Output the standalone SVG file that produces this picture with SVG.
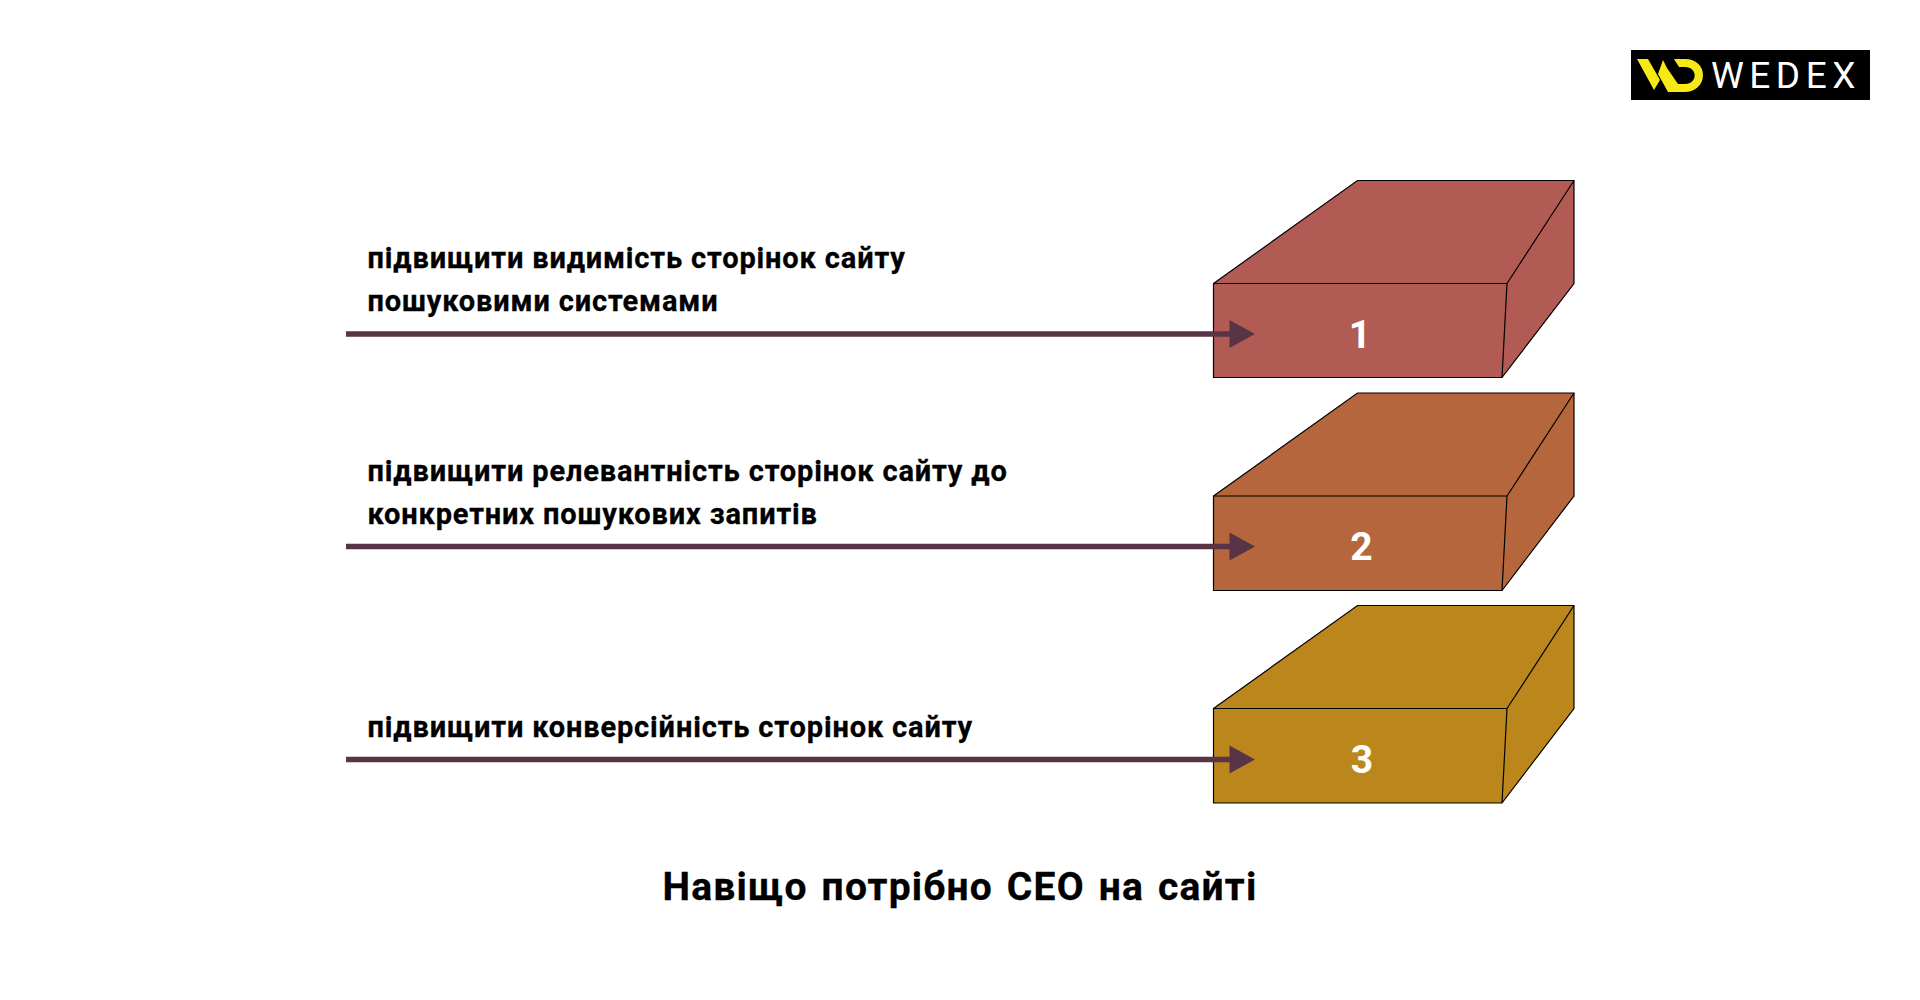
<svg xmlns="http://www.w3.org/2000/svg" width="1920" height="1000" viewBox="0 0 1920 1000">
<style>
.f{stroke:#000;stroke-width:1.2;stroke-linejoin:miter}
.t{font-family:Roboto,"Liberation Sans",sans-serif;font-weight:700;font-size:29px;fill:#000;stroke:#000;stroke-width:.3;letter-spacing:.85px}
.n{font-family:Roboto,"Liberation Sans",sans-serif;font-weight:700;font-size:39px;fill:#fff;text-anchor:middle}
.l{stroke:#593446;stroke-width:5.5;fill:none}
.h{fill:#593446}
</style>
<rect width="1920" height="1000" fill="#fff"/>
<g id="logo">
<rect x="1631" y="50" width="239" height="50" fill="#000"/>
<path d="M1637 59H1648L1660 80L1654 90Z" fill="#f5ea14"/>
<path d="M1674 59H1685C1696 59 1703 66 1703 75C1703 85 1695 92 1685 92H1668L1658 74L1663 60L1667 68L1678 84H1685C1698 84 1698 67 1685 67H1679Z" fill="#f5ea14"/>
<text x="1711" y="88" font-family="Roboto,'Liberation Sans',sans-serif" font-weight="400" font-size="37" fill="#fff" letter-spacing="5.500">WEDEX</text>
</g>
<g id="box1">
<path class="f" d="M1213.500 283.500L1357.500 180.500H1574V283.500L1502 377.500H1213.500Z" fill="#b25a54"/>
<path class="f" d="M1213.500 283.500H1507L1574 180.500M1507 283.500L1502 377.500" fill="none"/>
<text class="n" x="1360" y="348">1</text>
</g>
<g id="box2">
<path class="f" d="M1213.500 496L1357.500 393H1574V496L1502 590.500H1213.500Z" fill="#b5663d"/>
<path class="f" d="M1213.500 496H1507L1574 393M1507 496L1502 590.500" fill="none"/>
<text class="n" x="1361.500" y="560">2</text>
</g>
<g id="box3">
<path class="f" d="M1213.500 708.500L1357.500 605.500H1574V708.500L1502 803H1213.500Z" fill="#bb871c"/>
<path class="f" d="M1213.500 708.500H1507L1574 605.500M1507 708.500L1502 803" fill="none"/>
<text class="n" x="1362" y="773">3</text>
</g>
<g id="connectors">
<path class="l" d="M346 334H1232M346 546.500H1232M346 759.500H1232"/>
<path class="h" d="M1229.500 320L1255 334L1229.500 348ZM1229.500 532.500L1255 546.500L1229.500 560.500ZM1229.500 745.500L1255 759.500L1229.500 773.500Z"/>
</g>
<g id="labels">
<text class="t" x="367.500" y="268">підвищити видимість сторінок сайту</text>
<text class="t" x="367.500" y="311">пошуковими системами</text>
<text class="t" x="367.500" y="480.500">підвищити релевантність сторінок сайту до</text>
<text class="t" x="367.500" y="523.500">конкретних пошукових запитів</text>
<text class="t" x="367.500" y="736.500">підвищити конверсійність сторінок сайту</text>
<text x="960" y="899.500" text-anchor="middle" font-family="Roboto,'Liberation Sans',sans-serif" font-weight="700" font-size="39" letter-spacing="1.2" word-spacing="3" stroke="#000" stroke-width=".3" fill="#000">Навіщо потрібно СЕО на сайті</text>
</g>
</svg>
